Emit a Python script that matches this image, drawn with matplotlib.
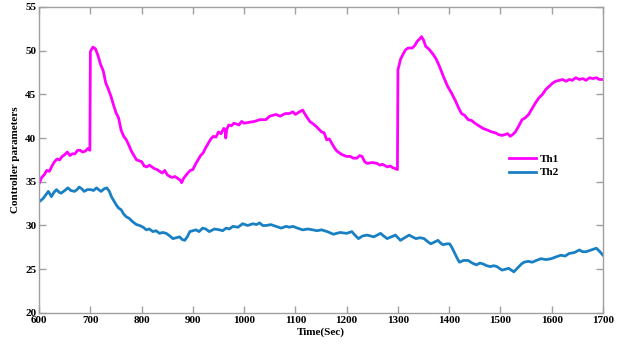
import matplotlib.pyplot as plt
import numpy as np

# Th1 readings (time in sec, value)
t1 = [600, 605, 610, 615, 620, 625, 630, 635, 640, 645, 650, 655, 660, 665, 670,
      675, 680, 685, 690, 695, 699, 700, 705, 710, 715, 720, 725, 730, 735, 740,
      745, 750, 755, 760, 765, 770, 775, 780, 785, 790, 800, 805, 810, 815, 820,
      825, 830, 835, 840, 845, 850, 855, 860, 865, 870, 875, 878, 882, 890, 895,
      900, 905, 910, 915, 920, 925, 930, 935, 940, 945, 950, 955, 960, 963, 964,
      966, 970, 975, 980, 985, 990, 995, 1000, 1010, 1020, 1030, 1042, 1050,
      1062, 1070, 1080, 1088, 1095, 1100, 1108, 1114, 1120, 1128, 1135, 1141,
      1151, 1156, 1161, 1166, 1171, 1176, 1181, 1186, 1191, 1200, 1207, 1213,
      1220, 1225, 1230, 1235, 1240, 1250, 1259, 1265, 1270, 1279, 1285, 1290,
      1295, 1299, 1300, 1305, 1310, 1315, 1320, 1328, 1333, 1338, 1342, 1346,
      1350, 1354, 1360, 1367, 1374, 1381, 1389, 1397, 1404, 1411, 1418, 1424,
      1430, 1437, 1444, 1450, 1458, 1466, 1475, 1483, 1490, 1496, 1503, 1509,
      1514, 1519, 1524, 1529, 1535, 1542, 1548, 1555, 1562, 1568, 1575, 1582,
      1589, 1595, 1602, 1608, 1615, 1621, 1628, 1634, 1640, 1647, 1654, 1661,
      1667, 1674, 1680, 1687, 1693, 1700]
th1 = [34.8, 35.5, 35.8, 36.3, 36.2, 36.8, 37.3, 37.6, 37.5, 37.9, 38.1, 38.4,
       38.0, 38.2, 38.2, 38.6, 38.6, 38.4, 38.5, 38.8, 38.6, 49.9, 50.4, 50.2,
       49.4, 48.4, 47.7, 46.3, 45.6, 44.8, 43.8, 42.9, 42.3, 40.9, 40.2, 39.8,
       39.2, 38.5, 38.0, 37.5, 37.3, 36.8, 36.7, 36.9, 36.7, 36.5, 36.4, 36.2,
       36.0, 36.3, 35.8, 35.6, 35.5, 35.6, 35.4, 35.2, 34.9, 35.4, 36.0, 36.3,
       36.4, 37.0, 37.5, 38.0, 38.3, 38.9, 39.4, 39.9, 40.2, 40.1, 40.7, 40.5,
       41.1, 41.0, 40.0, 41.0, 41.5, 41.4, 41.7, 41.6, 41.5, 41.9, 41.7, 41.8,
       41.9, 42.1, 42.1, 42.5, 42.7, 42.5, 42.8, 42.8, 43.0, 42.7, 43.0, 43.2,
       42.6, 41.9, 41.6, 41.3, 40.7, 40.6, 39.8, 39.9, 39.4, 38.9, 38.5, 38.3,
       38.1, 37.9, 37.9, 37.7, 37.7, 38.0, 37.9, 37.3, 37.1, 37.2, 37.1, 36.9,
       37.0, 36.7, 36.8, 36.6, 36.5, 36.4, 47.8, 49.0, 49.6, 50.1, 50.3, 50.3,
       50.6, 51.1, 51.3, 51.6, 51.2, 50.5, 50.2, 49.7, 49.1, 48.2, 47.0, 45.9,
       45.2, 44.4, 43.5, 42.8, 42.6, 42.1, 42.0, 41.7, 41.4, 41.1, 40.9, 40.7,
       40.6, 40.4, 40.3, 40.4, 40.5, 40.2, 40.4, 40.7, 41.3, 42.1, 42.3, 42.7,
       43.4, 44.0, 44.6, 45.0, 45.6, 45.9, 46.3, 46.5, 46.6, 46.7, 46.5, 46.7,
       46.6, 46.9, 46.7, 46.8, 46.6, 46.9, 46.8, 46.9, 46.7, 46.7]

# Th2 readings
t2 = [600, 608, 613, 618, 624, 629, 634, 639, 643, 650, 656, 662, 669, 674,
      678, 683, 688, 694, 701, 706, 712, 716, 721, 727, 732, 737, 741, 746, 751,
      755, 760, 765, 770, 776, 783, 790, 796, 803, 809, 815, 822, 828, 835, 841,
      848, 855, 861, 868, 874, 879, 884, 889, 894, 900, 906, 912, 919, 925, 932,
      942, 952, 958, 965, 971, 978, 988, 997, 1007, 1017, 1024, 1030, 1036,
      1043, 1052, 1062, 1072, 1082, 1088, 1095, 1104, 1114, 1124, 1134, 1142,
      1151, 1162, 1174, 1187, 1200, 1210, 1216, 1223, 1231, 1240, 1253, 1266,
      1272, 1279, 1287, 1295, 1300, 1305, 1313, 1322, 1328, 1335, 1343, 1351,
      1357, 1364, 1371, 1378, 1383, 1388, 1395, 1401, 1406, 1411, 1416, 1420,
      1428, 1437, 1445, 1453, 1460, 1466, 1473, 1480, 1487, 1493, 1498, 1503,
      1510, 1516, 1521, 1526, 1531, 1536, 1541, 1546, 1554, 1562, 1570, 1579,
      1589, 1599, 1608, 1618, 1626, 1634, 1644, 1654, 1660, 1667, 1677, 1687,
      1694, 1700]
th2 = [32.7, 33.1, 33.5, 33.9, 33.3, 33.8, 34.1, 33.8, 33.7, 34.0, 34.3, 34.0,
       33.9, 34.1, 34.4, 34.2, 33.9, 34.1, 34.1, 34.0, 34.3, 34.1, 33.9, 34.2,
       34.3, 33.9, 33.3, 32.8, 32.3, 32.0, 31.8, 31.3, 31.0, 30.8, 30.4, 30.1,
       30.0, 29.8, 29.5, 29.6, 29.3, 29.4, 29.1, 29.2, 29.1, 28.8, 28.5, 28.6,
       28.7, 28.4, 28.3, 28.7, 29.3, 29.4, 29.5, 29.3, 29.7, 29.6, 29.3, 29.6,
       29.5, 29.4, 29.7, 29.6, 29.9, 29.8, 30.2, 30.0, 30.2, 30.1, 30.3, 30.0,
       30.0, 30.1, 29.9, 29.7, 29.9, 29.8, 29.9, 29.7, 29.5, 29.6, 29.5, 29.4,
       29.5, 29.3, 29.0, 29.2, 29.1, 29.3, 28.9, 28.5, 28.8, 28.9, 28.7, 29.1,
       28.8, 28.5, 28.7, 28.9, 28.6, 28.3, 28.6, 28.9, 28.7, 28.5, 28.6, 28.5,
       28.2, 27.9, 28.1, 28.3, 28.0, 27.8, 27.9, 27.9, 27.4, 26.8, 26.2, 25.8,
       26.0, 26.0, 25.7, 25.5, 25.7, 25.6, 25.4, 25.3, 25.4, 25.3, 25.1, 24.9,
       25.0, 25.1, 24.9, 24.7, 25.0, 25.3, 25.6, 25.8, 25.9, 25.8, 26.0, 26.2,
       26.1, 26.2, 26.4, 26.6, 26.5, 26.8, 26.9, 27.2, 27.0, 27.0, 27.2, 27.4,
       27.0, 26.6]

plt.rcParams['font.family'] = ['Liberation Serif', 'DejaVu Serif']
plt.rcParams['font.weight'] = 'bold'

fig = plt.figure(figsize=(6.21, 3.45), dpi=100)
ax = fig.add_axes([0.063, 0.093, 0.908, 0.887])

ax.plot(t1, th1, color='#ff00ff', lw=2.0, label='Th1')
ax.plot(t2, th2, color='#1a80c4', lw=2.0, label='Th2')

ax.set_xlim(600, 1700)
ax.set_ylim(20, 55)
ax.set_xticks(np.arange(600, 1701, 100))
ax.set_yticks(np.arange(20, 56, 5))
ax.tick_params(direction='in', length=5, width=1, colors='#a0a0a0',
               labelcolor='black', labelsize=8, top=True, right=True, pad=2)
for lab in ax.get_xticklabels() + ax.get_yticklabels():
    lab.set_fontweight('bold')
for sp in ax.spines.values():
    sp.set_color('#a0a0a0')
    sp.set_linewidth(1)

ax.set_xlabel('Time(Sec)', fontsize=8, fontweight='bold', labelpad=2)
ax.set_ylabel('Controller parameters', fontsize=8, fontweight='bold', labelpad=4)

ax.legend(loc='center left', bbox_to_anchor=(0.815, 0.48), frameon=False,
          fontsize=8, handlelength=2.5, handletextpad=0.3, labelspacing=0.3)

fig.savefig('out.png', dpi=100)
